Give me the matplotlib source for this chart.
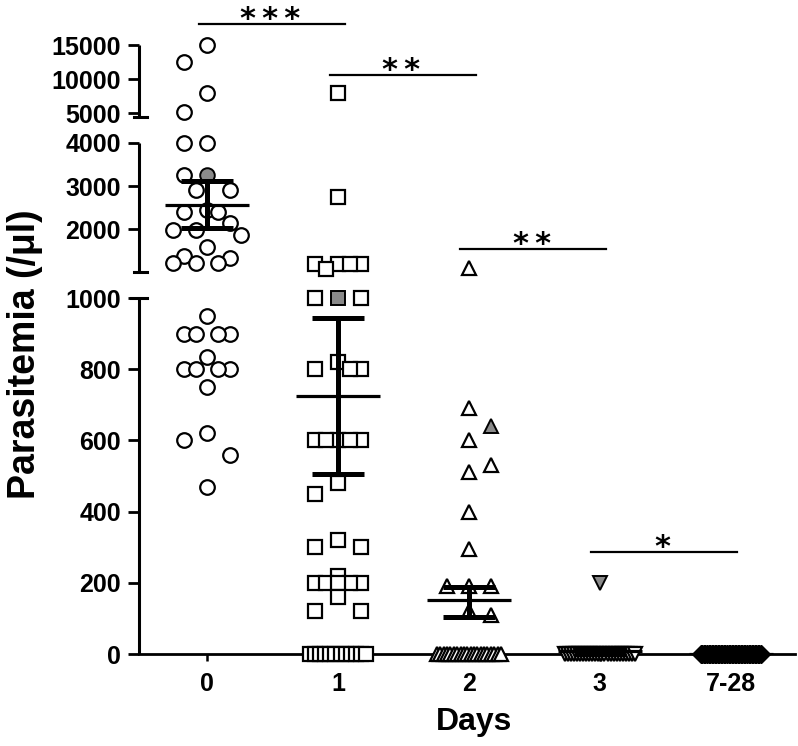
import numpy as np
import matplotlib
matplotlib.use("Agg")
import matplotlib.pyplot as plt
from matplotlib import transforms

plt.rcParams['font.family'] = ['Liberation Sans', 'DejaVu Sans']

# ---------------- data ----------------
days = ['0', '1', '2', '3', '7-28']

day0_open = [15000, 12500, 8000, 5200, 4000, 4000, 3250, 2900, 2900, 2450, 2400, 2400,
             2150, 1980, 1980, 1870, 1600, 1390, 1345, 1215, 1215, 1215,
             950, 900, 900, 900, 900, 835, 800, 800, 800, 800, 750, 620, 600, 560, 470]
day0_gray = [3250]

day1_open = [8000, 2750, 1200, 1200, 1200, 1200, 1080, 1000, 1000, 820, 800, 800, 800,
             600, 600, 600, 600, 600, 480, 450, 320, 300, 300, 220, 200, 200, 200, 200, 200,
             160, 120, 120] + [0] * 12
day1_gray = [1000]

day2_open = [1100, 690, 600, 530, 510, 400, 295, 190, 190, 190, 120, 110] + [0] * 20
day2_gray = [640]

day3_open = [0] * 24
day3_gray = [200]

day728_vals = [0] * 40

means = [2560, 725, 152, 8, 0]
err_low = [2040, 505, 105, 0, 0]
err_high = [3110, 945, 189, 16, 0]

comparisons = [(0, 1, '***', 18130), (1, 2, '**', 10630), (2, 3, '**', 1538), (3, 4, '*', 286)]

yticks = [0, 200, 400, 600, 800, 1000, 2000, 3000, 4000, 5000, 10000, 15000]
ytick_labels = ['0', '200', '400', '600', '800', '1000', '2000', '3000', '4000', '5000', '10000', '15000']

# ---------------- broken-axis scale ----------------
xp = np.array([-1e4, 0, 1000, 1021, 4000, 4456, 15000, 1e5])
fp = np.array([-3560, 0, 356, 382.3, 511.3, 537.0, 608.7, 608.7 + 85000 * 0.0068])

def fwd(v):
    return np.interp(np.asarray(v, dtype=float), xp, fp)

def inv(f):
    return np.interp(np.asarray(f, dtype=float), fp, xp)

segments = [(0, 1000), (1021, 4000), (4456, 15000)]

fig = plt.figure(figsize=(7.98, 7.46), dpi=100)
ax = fig.add_axes([139 / 798, 1 - 654 / 746, (795 - 139) / 798, 654 / 746])
ax.set_yscale('function', functions=(fwd, inv))
ax.set_ylim(0, float(inv(654)))
ax.set_xlim(-0.52, 4.49)

for s in ['top', 'right', 'left']:
    ax.spines[s].set_visible(False)
ax.spines['bottom'].set_linewidth(2.0)

# y-axis broken spine
tr = transforms.blended_transform_factory(ax.transAxes, ax.transData)
for lo, hi in segments:
    ax.plot([0, 0], [lo, hi], color='black', lw=2.2, transform=tr, clip_on=False,
            solid_capstyle='butt', zorder=5)
ax.plot([-0.012, 0.012], [1000, 1000], color='black', lw=2.2, transform=tr, clip_on=False, zorder=5)
ax.plot([-0.008, 0.012], [1021, 1021], color='black', lw=2.2, transform=tr, clip_on=False, zorder=5)
ax.plot([-0.008, 0.012], [4456, 4456], color='black', lw=2.2, transform=tr, clip_on=False, zorder=5)

ax.set_yticks(yticks)
ax.set_yticklabels(ytick_labels, fontsize=18, fontweight='bold')
ax.tick_params(axis='y', direction='out', length=8, width=2.0, pad=5)
ax.set_xticks(range(len(days)))
ax.set_xticklabels(days, fontsize=18, fontweight='bold')
ax.tick_params(axis='x', direction='out', length=5, width=1.8, pad=8)

fig.text(25 / 798, 1 - 354 / 746, 'Parasitemia (/μl)', rotation=90, ha='center', va='center',
         fontsize=27, fontweight='bold')
fig.text(474 / 798, 1 - 722 / 746, 'Days', ha='center', va='center', fontsize=23, fontweight='bold')

# ---------------- column-lattice scatter layout ----------------
fig.canvas.draw()
px_per_day = ax.transData.transform([[1, 0]])[0, 0] - ax.transData.transform([[0, 0]])[0, 0]

def layout(vals, step_px, prefs, ry_px, zero_hw_px):
    vals = np.asarray(vals, dtype=float)
    ys = ax.transData.transform(np.column_stack([np.zeros(len(vals)), vals]))[:, 1]
    offs = np.zeros(len(vals))
    zero_idx = np.where(vals == 0)[0]
    if len(zero_idx) > 1:
        offs[zero_idx] = np.linspace(-zero_hw_px, zero_hw_px, len(zero_idx))
    placed = {}
    for i in np.argsort(-vals, kind='stable'):
        if vals[i] == 0:
            continue
        best, best_gap = None, -1
        for k in prefs:
            col = placed.get(k, [])
            gap = min([abs(ys[i] - y) for y in col], default=1e9)
            if gap >= ry_px:
                best = k
                break
            if gap > best_gap:
                best, best_gap = k, gap
        placed.setdefault(best, []).append(ys[i])
        offs[i] = best * step_px
    return offs / px_per_day

gray = '#8a8a8a'
wide3 = [0, -2, 2, -1, 1, -3, 3]
wide2 = [0, -2, 2, 1, -1]
narrow1 = [0, 1, -1]
groups = [
    # pos, open, gray, marker, ms, step, column preference, ry, zero half-width
    (0, day0_open, day0_gray, 'o', 10.5, 11.3, wide3, 26, 30),
    (1, day1_open, day1_gray, 's', 9.5, 11.7, wide2, 26, 28),
    (2, day2_open, day2_gray, '^', 10.0, 21.7, narrow1, 26, 32),
    (3, day3_open, day3_gray, 'v', 10.0, 21.7, narrow1, 26, 35),
]
for pos, vopen, vgray, mk, ms, step, prefs, ry, zhw in groups:
    allv = list(vgray) + list(vopen)
    offs = layout(allv, step, prefs, ry, zhw)
    ng = len(vgray)
    ax.plot(pos + offs[ng:], vopen, linestyle='none', marker=mk, ms=ms, mfc='white', mec='black',
            mew=1.6, clip_on=False, zorder=3)
    ax.plot(pos + offs[:ng], vgray, linestyle='none', marker=mk, ms=ms, mfc=gray, mec='black',
            mew=1.4, clip_on=False, zorder=3)

offs = layout(day728_vals, 8, narrow1, 10, 30)
ax.plot(4 + offs, day728_vals, linestyle='none', marker='D', ms=9, mfc='black', mec='black',
        mew=1.0, clip_on=False, zorder=3)

# ---------------- mean and error bars ----------------
xpos = np.arange(len(days))
means_a = np.array(means, dtype=float)
ax.errorbar(xpos, means_a, yerr=[means_a - np.array(err_low), np.array(err_high) - means_a],
            fmt='none', ecolor='black', elinewidth=3.6, capsize=18.5, capthick=3.6, zorder=6,
            clip_on=False)
ax.hlines(means_a, xpos - 0.32, xpos + 0.32, colors='black', lw=2.3, zorder=6)

# ---------------- significance bars ----------------
for i, j, lab, yv in comparisons:
    ax.plot([i - 0.065, j + 0.05], [yv, yv], color='black', lw=1.6, clip_on=False, zorder=6)
    ax.annotate('\u2009'.join(lab), xy=((i + j) / 2 - 0.02, yv), xytext=(0, -3),
                textcoords='offset points', ha='center', va='baseline', fontsize=22,
                family='DejaVu Sans', fontweight='bold', annotation_clip=False)

fig.savefig('out.png', dpi=100)
